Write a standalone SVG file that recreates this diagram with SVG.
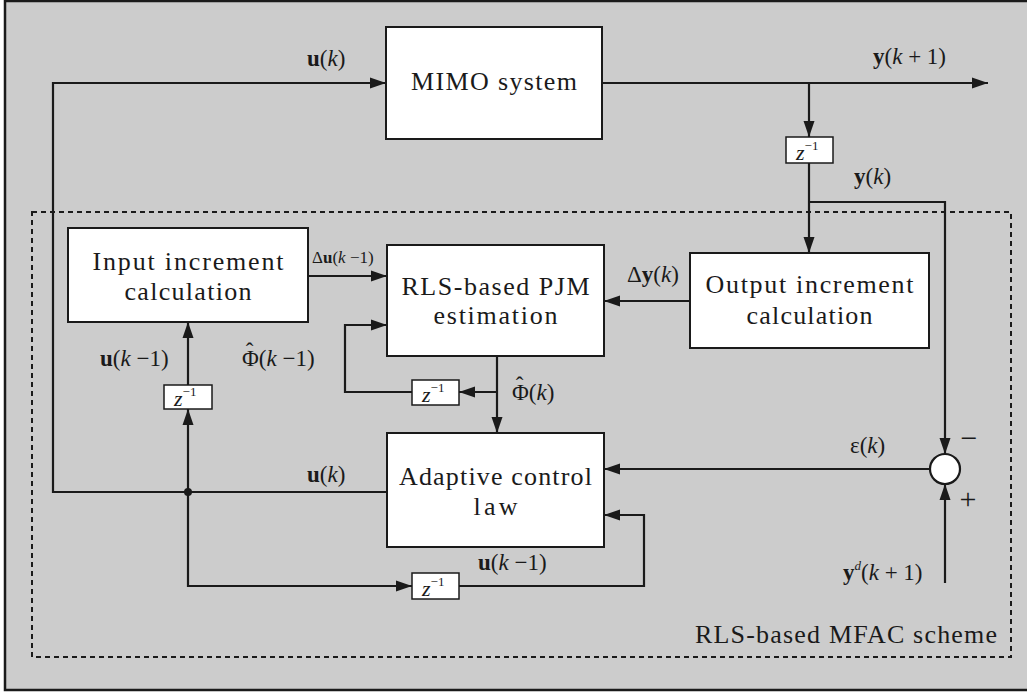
<svg xmlns="http://www.w3.org/2000/svg" width="1027" height="693" viewBox="0 0 1027 693">
<defs>
<marker id="ah" markerWidth="16" markerHeight="12" refX="16" refY="6" orient="auto" markerUnits="userSpaceOnUse">
<path d="M0,0.5 L16,6 L0,11.5 Z" fill="#1a1a1a"/>
</marker>
<style>
.box{fill:#ffffff;stroke:#1a1a1a;stroke-width:2}
.zb{fill:#ffffff;stroke:#1a1a1a;stroke-width:1.5}
.ar{fill:none;stroke:#1a1a1a;stroke-width:2.2;marker-end:url(#ah)}
.bt{font-family:"Liberation Serif","Times New Roman",serif;font-size:26px;fill:#1a1a1a;text-anchor:middle}
.mt{font-family:"Liberation Serif","Times New Roman",serif;font-size:23px;fill:#1a1a1a}
.zt{font-family:"Liberation Serif","Times New Roman",serif;font-size:22px;fill:#1a1a1a;font-style:italic}
.sup{font-size:13px;font-style:normal}
.b{font-weight:bold}
.i{font-style:italic}
</style>
</defs>
<rect x="5" y="1" width="1030" height="689" fill="#cccccc" stroke="#1a1a1a" stroke-width="2.5"/>
<rect x="32" y="212" width="979" height="445" fill="none" stroke="#1a1a1a" stroke-width="2" stroke-dasharray="5 4"/>

<g id="connectors">
<polyline class="ar" points="387,492 53,492 53,83 386,83"/>
<polyline class="ar" points="602,83 988,83"/>
<polyline class="ar" points="809,83 809,137"/>
<polyline class="ar" points="809,163 809,253"/>
<polyline class="ar" points="809,202 945,202 945,454"/>
<polyline class="ar" points="930,469 604,469"/>
<polyline class="ar" points="945,583 945,484"/>
<polyline class="ar" points="690,301 604,301"/>
<polyline class="ar" points="308,276 387,276"/>
<polyline class="ar" points="497,356 497,433"/>
<polyline class="ar" points="497,392 459,392"/>
<polyline class="ar" points="412,392 345,392 345,325 387,325"/>
<polyline class="ar" points="188,492 188,409"/>
<polyline class="ar" points="188,385 188,322"/>
<polyline class="ar" points="188,492 188,586 412,586"/>
<polyline class="ar" points="459,586 644,586 644,515 604,515"/>
<circle cx="188" cy="492" r="4" fill="#1a1a1a"/>
</g>

<g id="mimo">
<rect class="box" x="386" y="27" width="216" height="112"/>
<text class="bt" x="494" y="90" textLength="166" lengthAdjust="spacing">MIMO system</text>
</g>
<g id="input-increment">
<rect class="box" x="68" y="228" width="240" height="94"/>
<text class="bt" x="188" y="270" textLength="191" lengthAdjust="spacing">Input increment</text>
<text class="bt" x="188" y="300" textLength="127" lengthAdjust="spacing">calculation</text>
</g>
<g id="rls-pjm">
<rect class="box" x="387" y="245" width="217" height="111"/>
<text class="bt" x="495.5" y="295" textLength="188" lengthAdjust="spacing">RLS-based PJM</text>
<text class="bt" x="495.5" y="324" textLength="124" lengthAdjust="spacing">estimation</text>
</g>
<g id="output-increment">
<rect class="box" x="690" y="253" width="239" height="95"/>
<text class="bt" x="809.5" y="293" textLength="208" lengthAdjust="spacing">Output increment</text>
<text class="bt" x="809.5" y="324" textLength="126" lengthAdjust="spacing">calculation</text>
</g>
<g id="adaptive">
<rect class="box" x="387" y="433" width="217" height="114"/>
<text class="bt" x="495.5" y="485" textLength="193" lengthAdjust="spacing">Adaptive control</text>
<text class="bt" x="495.5" y="515" textLength="44" lengthAdjust="spacing">law</text>
</g>
<g id="z-top">
<rect class="zb" x="786" y="137" width="47" height="26"/>
<text class="zt" x="796" y="160">z<tspan class="sup" dy="-10">−1</tspan></text>
</g>
<g id="z-left">
<rect class="zb" x="164" y="385" width="48" height="24"/>
<text class="zt" x="174" y="406">z<tspan class="sup" dy="-10">−1</tspan></text>
</g>
<g id="z-loop">
<rect class="zb" x="412" y="380" width="47" height="25"/>
<text class="zt" x="422" y="402">z<tspan class="sup" dy="-10">−1</tspan></text>
</g>
<g id="z-bottom">
<rect class="zb" x="412" y="573" width="47" height="26"/>
<text class="zt" x="422" y="596">z<tspan class="sup" dy="-10">−1</tspan></text>
</g>
<g id="sum">
<circle cx="945" cy="469" r="15" fill="#ffffff" stroke="#1a1a1a" stroke-width="2.2"/>
<text class="mt" x="969" y="448" style="font-size:30px;text-anchor:middle">−</text>
<text class="mt" x="968" y="509" style="font-size:30px;text-anchor:middle">+</text>
</g>

<g id="labels">
<text class="mt" x="307" y="66"><tspan class="b">u</tspan>(<tspan class="i">k</tspan>)</text>
<text class="mt" x="873" y="64"><tspan class="b">y</tspan>(<tspan class="i">k</tspan> + 1)</text>
<text class="mt" x="854" y="184"><tspan class="b">y</tspan>(<tspan class="i">k</tspan>)</text>
<text class="mt" x="312" y="263" style="font-size:17px">Δ<tspan class="b">u</tspan>(<tspan class="i">k</tspan> −1)</text>
<text class="mt" x="627" y="282">Δ<tspan class="b">y</tspan>(<tspan class="i">k</tspan>)</text>
<text class="mt" x="100" y="366"><tspan class="b">u</tspan>(<tspan class="i">k</tspan> −1)</text>
<text class="mt" x="242" y="366">Φ<tspan dx="-13" dy="-7">ˆ</tspan><tspan dx="5.3" dy="7">(</tspan><tspan class="i">k</tspan> −1)</text>
<text class="mt" x="512" y="400">Φ<tspan dx="-13" dy="-7">ˆ</tspan><tspan dx="5.3" dy="7">(</tspan><tspan class="i">k</tspan>)</text>
<text class="mt" x="850" y="453">ε(<tspan class="i">k</tspan>)</text>
<text class="mt" x="307" y="482"><tspan class="b">u</tspan>(<tspan class="i">k</tspan>)</text>
<text class="mt" x="478" y="570"><tspan class="b">u</tspan>(<tspan class="i">k</tspan> −1)</text>
<text class="mt" x="843" y="580"><tspan class="b">y</tspan><tspan class="i" style="font-size:13px" dy="-10">d</tspan><tspan dy="10">(</tspan><tspan class="i">k</tspan> + 1)</text>
<text class="bt" x="997" y="643" style="text-anchor:end" textLength="302" lengthAdjust="spacing">RLS-based MFAC scheme</text>
</g>
</svg>
